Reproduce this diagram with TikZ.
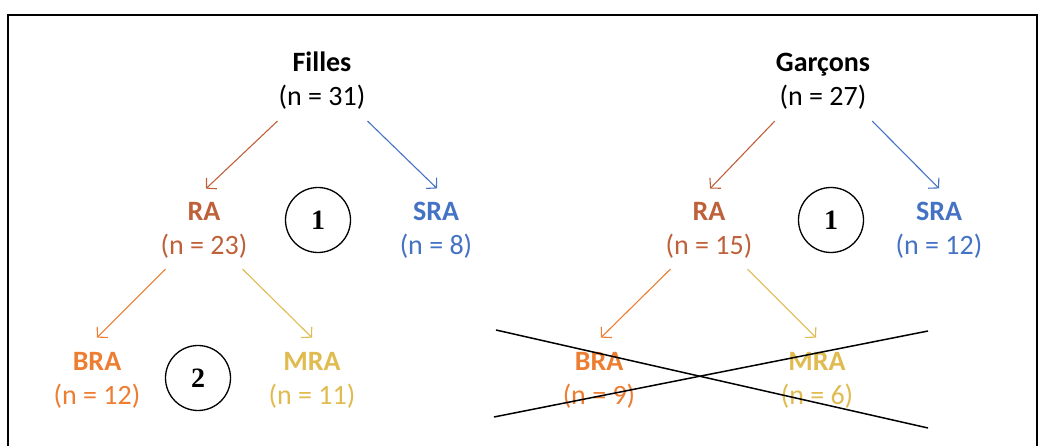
\documentclass[tikz,border=0pt]{standalone}
\usepackage{fontspec}
\setmainfont{Carlito}
\newfontfamily\circfont{Liberation Serif}
\usepackage{tikz}
\usetikzlibrary{arrows.meta, positioning, calc}
\definecolor{rabrown}{RGB}{190,97,58}
\definecolor{srablue}{RGB}{68,114,196}
\definecolor{braorange}{RGB}{237,125,49}
\definecolor{mragold}{RGB}{224,187,80}
\tikzset{
  grp/.style={font=\fontsize{28}{34}\selectfont, align=center,
    inner sep=3pt, anchor=base},
  numcirc/.style={circle, draw=black, line width=1.3pt,
    minimum size=65pt, inner sep=0pt, font=\circfont\bfseries\fontsize{28}{30}\selectfont},
  arrow/.style={-{Straight Barb[length=7pt,width=15pt]}, line width=1.1pt},
  cross/.style={line width=1.5pt, color=black}
}

\begin{document}
\begin{tikzpicture}[x=1pt, y=-1pt]
  \useasboundingbox (0,0) rectangle (1041,446);

  % Frame
  \draw[line width=1.4pt] (8,470) -- (8,15) -- (1037,15) -- (1037,470);

  % Filles
  \node[grp] (fil) at (322,106) {\textbf{Filles}\\(n = 31)};
  \node[grp, text=rabrown] (filra) at (204,255) {\textbf{RA}\\(n = 23)};
  \node[grp, text=srablue] (filsra) at (436,255) {\textbf{SRA}\\(n = 8)};
  \node[grp, text=braorange] (filbra) at (97,404) {\textbf{BRA}\\(n = 12)};
  \node[grp, text=mragold] (filmra) at (312,404) {\textbf{MRA}\\(n = 11)};
  \node[numcirc] (filone) at (318,220) {1};
  \node[numcirc] (filtwo) at (198,378) {2};

  \draw[arrow, rabrown] ([shift={(2,8)}]fil.south west) -- ([shift={(2,-11)}]filra.north);
  \draw[arrow, srablue] ([shift={(-1,8)}]fil.south east) -- ([shift={(1,-11)}]filsra.north);
  \draw[arrow, braorange] ([shift={(8,7)}]filra.south west) -- ([shift={(0,-11)}]filbra.north);
  \draw[arrow, mragold] ([shift={(-8,7)}]filra.south east) -- ([shift={(0,-11)}]filmra.north);

  % Garcons
  \node[grp] (gar) at (823,106) {\textbf{Garçons}\\(n = 27)};
  \node[grp, text=rabrown] (garra) at (709,255) {\textbf{RA}\\(n = 15)};
  \node[grp, text=srablue] (garsra) at (939,255) {\textbf{SRA}\\(n = 12)};
  \node[grp, text=braorange] (garbra) at (599,404) {\textbf{BRA}\\(n = 9)};
  \node[grp, text=mragold] (garmra) at (817,404) {\textbf{MRA}\\(n = 6)};
  \node[numcirc] (garone) at (831,220) {1};

  \draw[arrow, rabrown] ([shift={(2,8)}]gar.south west) -- ([shift={(1,-11)}]garra.north);
  \draw[arrow, srablue] ([shift={(-1,8)}]gar.south east) -- ([shift={(0,-11)}]garsra.north);
  \draw[arrow, braorange] ([shift={(8,7)}]garra.south west) -- ([shift={(2,-11)}]garbra.north);
  \draw[arrow, mragold] ([shift={(-8,7)}]garra.south east) -- ([shift={(-1,-11)}]garmra.north);

  % Cross over the boys' second level
  \draw[cross] (496,330) -- (928,428);
  \draw[cross] (494,417) -- (928,331);
\end{tikzpicture}
\end{document}
